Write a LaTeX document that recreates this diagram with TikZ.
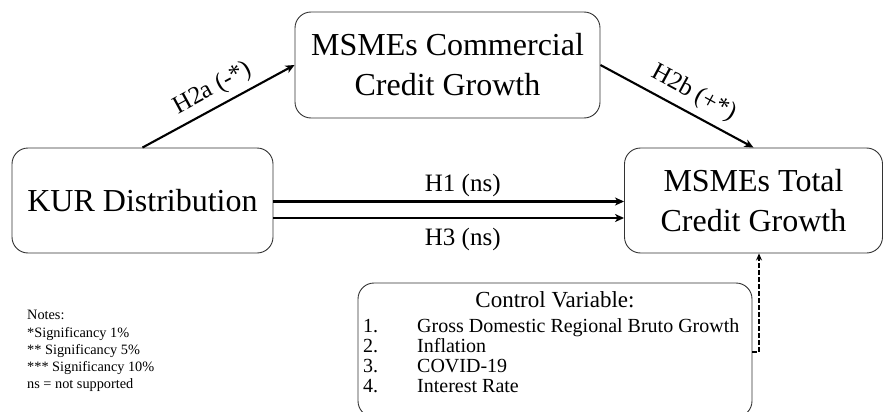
\documentclass[tikz,border=0pt]{standalone}
\usepackage{fontspec}
\setmainfont{Liberation Serif}
\usetikzlibrary{arrows.meta}
\begin{document}
\begin{tikzpicture}[x=1pt,y=-1pt,
  box/.style={draw=black!80, line width=0.9pt, rounded corners=16pt, align=center,
    inner sep=0pt, font=\fontsize{32}{40}\selectfont},
  link/.style={line width=2.1pt, -{Stealth[length=9pt,width=8pt,inset=2.5pt]}},
  lbl/.style={font=\fontsize{25}{28}\selectfont, inner sep=2pt},
  item/.style={font=\fontsize{20}{20}\selectfont, anchor=base west, inner sep=0pt},
  note/.style={font=\fontsize{14.3}{17}\selectfont, anchor=base west, inner sep=0pt}
]
\useasboundingbox (0,0) rectangle (883,412);

% main constructs
\node[box, minimum width=305pt, minimum height=106pt] (comm) at (447.5,65)
  {MSMEs Commercial\\Credit Growth};
\node[box, minimum width=261pt, minimum height=105pt] (kur) at (142.5,200.5)
  {KUR Distribution};
\node[box, minimum width=258pt, minimum height=105pt] (total) at (753.5,200.5)
  {MSMEs Total\\Credit Growth};

% hypothesised paths
\draw[link] (kur.north) -- node[lbl, sloped, above=4pt, pos=0.52] {H2a (-*)} (comm.west);
\draw[link] (comm.east) -- node[lbl, sloped, above=5pt, pos=0.55] {H2b (+*)} (total.north);
\draw[link] ([yshift=-1pt]kur.east) -- node[lbl, above=2pt, pos=0.54] {H1 (ns)} ([yshift=-1pt]total.west);
\draw[link] ([yshift=-17.5pt]kur.east) -- node[lbl, below=7pt, pos=0.54] {H3 (ns)} ([yshift=-17.5pt]total.west);

% control variables
\node[draw=black!80, line width=0.9pt, rounded corners=16pt, minimum width=394pt,
  minimum height=134pt] (ctrl) at (555,350) {};
\node[font=\fontsize{23}{24}\selectfont, inner sep=0pt, anchor=base] (ctitle) at (555,307) {Control Variable:};
\node[item] (n1) at (363,332) {1.};
\node[item] (n2) at (363,352) {2.};
\node[item] (n3) at (363,372) {3.};
\node[item] (n4) at (363,392) {4.};
\node[item] (v1) at (417,332) {Gross Domestic Regional Bruto Growth};
\node[item] (v2) at (417,352) {Inflation};
\node[item] (v3) at (417,372) {COVID-19};
\node[item] (v4) at (417,392) {Interest Rate};
\draw[line width=1.6pt, dash pattern=on 4.5pt off 2.5pt, -{Stealth[length=7pt,width=6pt]}]
  ([yshift=-2pt]ctrl.east) -| ([xshift=5.5pt]total.south);

% notes
\node[note] (t1) at (27,319) {Notes:};
\node[note] (t2) at (27,337) {*Significancy 1\%};
\node[note] (t3) at (27,354) {** Significancy 5\%};
\node[note] (t4) at (27,371) {*** Significancy 10\%};
\node[note] (t5) at (27,388) {ns = not supported};
\end{tikzpicture}
\end{document}
